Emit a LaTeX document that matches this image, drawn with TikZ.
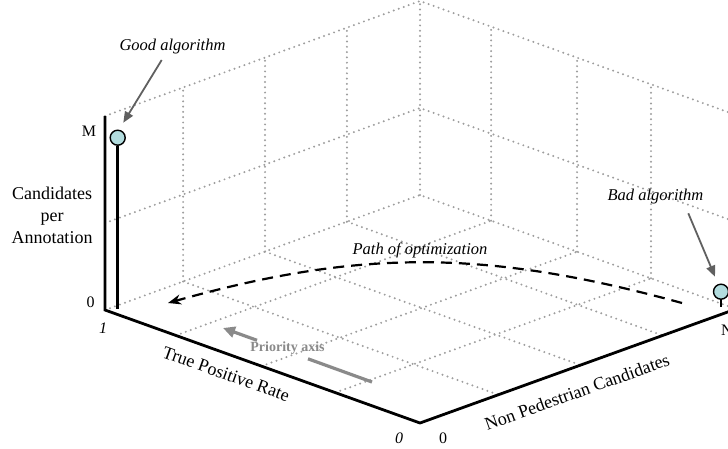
\documentclass[tikz,border=0pt]{standalone}
\usepackage{fontspec}
\setmainfont{Liberation Serif}
\usetikzlibrary{calc,arrows.meta}
\definecolor{gridgray}{RGB}{158,158,158}
\definecolor{arrowgray}{RGB}{96,96,96}
\definecolor{prioritygray}{RGB}{138,138,138}
\definecolor{markerfill}{RGB}{178,220,222}
\begin{document}
\begin{tikzpicture}[x=1pt,y=-1pt,
  gridline/.style={draw=gridgray, line width=2.2pt, line cap=round, dash pattern=on 0pt off 5.3pt},
  axisline/.style={draw=black, line width=2.8pt, line join=miter},
  stem/.style={draw=black, line width=2.8pt},
  marker/.style={circle, draw=black, line width=1.4pt, fill=markerfill, minimum size=15pt, inner sep=0pt},
  pointer/.style={draw=arrowgray, line width=1.8pt, -{Triangle[length=11pt,width=9pt]}},
  pathopt/.style={draw=black, line width=2.2pt, dash pattern=on 11pt off 7pt, -{Stealth[length=13pt,width=10pt]}},
  prio/.style={draw=prioritygray, line width=3.2pt},
  lbl/.style={font=\fontsize{18}{22}\selectfont, inner sep=0pt, align=center},
  note/.style={font=\fontsize{16.5}{20}\selectfont\itshape, inner sep=0pt},
  num/.style={font=\fontsize{16}{19}\selectfont, inner sep=0pt},
  numit/.style={font=\fontsize{16}{19}\selectfont\itshape, inner sep=0pt},
  priolbl/.style={font=\fontsize{14}{17}\selectfont\bfseries, text=prioritygray, inner sep=0pt}]
\clip (0,0) rectangle (728,448);
% frame corners
\coordinate (B) at (420,195);
\coordinate (L) at (105,310);
\coordinate (O) at (420,423);
\coordinate (R) at (736,309);
% grid: walls
\draw[gridline] (L) -- (B) -- (R);
\draw[gridline] ($(L)+(0,-87)$) -- ($(B)+(0,-87)$) -- ($(R)+(0,-87)$);
\draw[gridline] ($(L)+(0,-194)$) -- ($(B)+(0,-194)$) -- ($(R)+(0,-194)$);
\draw[gridline] (B) -- ($(B)+(0,-194)$);
\foreach \t in {0.248,0.508,0.768} {
  \draw[gridline] ($(L)!\t!(B)$) -- ($(O)!\t!(R)$);
  \draw[gridline] ($(L)!\t!(B)$) -- ($(L)!\t!(B)+(0,-194)$);
}
\foreach \s in {0.225,0.497,0.731} {
  \draw[gridline] ($(L)!\s!(O)$) -- ($(B)!\s!(R)$);
  \draw[gridline] ($(B)!\s!(R)$) -- ($(B)!\s!(R)+(0,-194)$);
}
% axes
\coordinate (Ltop) at (105,116);
\draw[axisline] (Ltop) -- (L) -- (O) -- (R);
% path of optimization
\coordinate (pstart) at (682,303);
\coordinate (ptip) at (168,303);
\draw[pathopt] (pstart) .. controls (485,249) and (360,249) .. (ptip);
\node[note] (pathlbl) at (420,250) {Path of optimization};
% markers
\coordinate (goodbase) at (117.7,309);
\coordinate (badbase) at (721,306.5);
\node[marker] (goodmark) at (117.7,137.7) {};
\node[marker] (badmark) at (721,291.7) {};
\draw[stem] (goodmark.south) -- (goodbase);
\draw[stem] (badmark.south) -- (badbase);
% annotations
\node[note] (goodlbl) at (172.5,47) {Good algorithm};
\node[note] (badlbl) at (655.5,197) {Bad algorithm};
\coordinate (gstart) at (161.7,60);
\coordinate (gtip) at (123.3,122.7);
\coordinate (bstart) at (688.3,213.3);
\coordinate (btip) at (715,276.7);
\draw[pointer] (gstart) -- (gtip);
\draw[pointer] (bstart) -- (btip);
% priority axis
\coordinate (pr1) at (372,382);
\coordinate (pr2) at (308,358.8);
\coordinate (pr3) at (257,340.3);
\coordinate (pr4) at (223,328);
\draw[prio] (pr1) -- (pr2);
\draw[prio, -{Triangle[length=12pt,width=11pt]}] (pr3) -- (pr4);
\node[priolbl] (priolabel) at (287.5,348.5) {Priority axis};
% axis labels
\node[lbl] (cand) at (52,215) {Candidates\\per\\Annotation};
\node[lbl, rotate=-19.7] (tpr) at (226,374) {True Positive Rate};
\node[lbl, rotate=19.8] (npc) at (577,392) {Non Pedestrian Candidates};
\node[num] (mlbl) at (89,131) {M};
\node[num] (zlbl) at (90.5,302) {0};
\node[numit] (onelbl) at (103,328) {1};
\node[numit] (ztpr) at (399,438) {0};
\node[num] (znpc) at (443,438) {0};
\node[num] (nlbl) at (727,330) {N};
\end{tikzpicture}
\end{document}
